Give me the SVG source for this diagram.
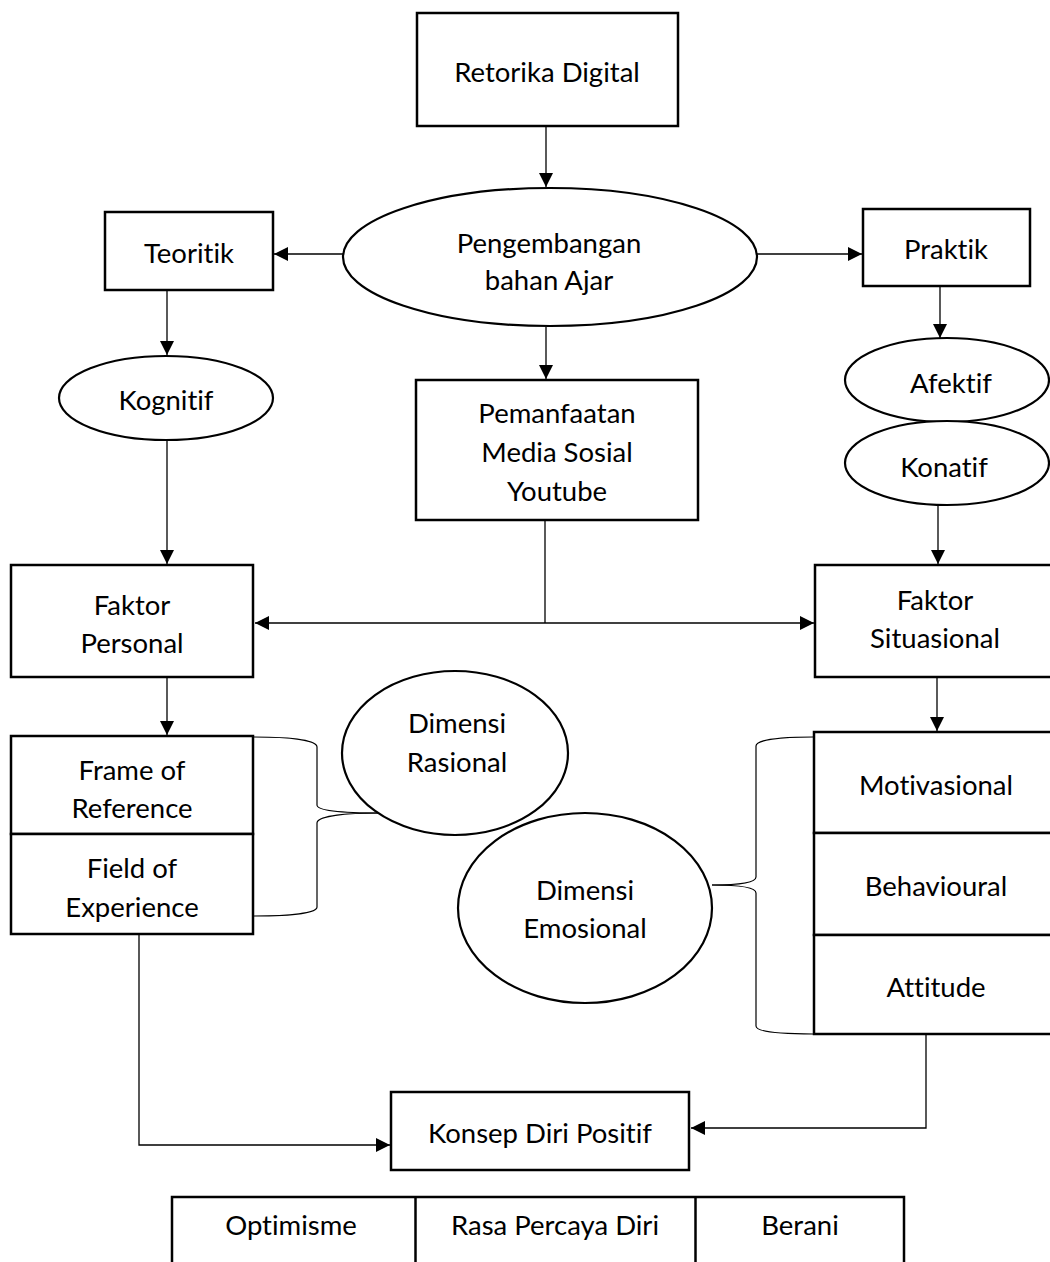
<svg xmlns="http://www.w3.org/2000/svg" width="1050" height="1262" viewBox="0 0 1050 1262">
<style>
.box{fill:#fff;stroke:#000;stroke-width:2.5}
.ell{fill:#fff;stroke:#000;stroke-width:2.2}
.ln{fill:none;stroke:#000;stroke-width:1.3}
.br{fill:none;stroke:#000;stroke-width:1.2}
text{font-family:Lato,"Open Sans","Liberation Sans",sans-serif;font-size:27.5px;fill:#000;text-anchor:middle;font-variant-ligatures:none}
</style>
<defs>
<marker id="ah" viewBox="0 0 10 10" refX="10" refY="5" markerWidth="14" markerHeight="14" markerUnits="userSpaceOnUse" orient="auto">
<path d="M0,0 L10,5 L0,10 Z" fill="#000"/>
</marker>
</defs>
<rect width="1050" height="1262" fill="#fff"/>

<g id="connectors">
<line class="ln" x1="546" y1="126" x2="546" y2="187" marker-end="url(#ah)"/>
<line class="ln" x1="343" y1="254" x2="274" y2="254" marker-end="url(#ah)"/>
<line class="ln" x1="757" y1="254" x2="862" y2="254" marker-end="url(#ah)"/>
<line class="ln" x1="167" y1="291" x2="167" y2="355" marker-end="url(#ah)"/>
<line class="ln" x1="546" y1="327" x2="546" y2="379" marker-end="url(#ah)"/>
<line class="ln" x1="940" y1="287" x2="940" y2="338" marker-end="url(#ah)"/>
<line class="ln" x1="167" y1="440" x2="167" y2="564" marker-end="url(#ah)"/>
<line class="ln" x1="938" y1="505" x2="938" y2="564" marker-end="url(#ah)"/>
<line class="ln" x1="545" y1="520" x2="545" y2="623"/>
<line class="ln" x1="545" y1="623" x2="255" y2="623" marker-end="url(#ah)"/>
<line class="ln" x1="545" y1="623" x2="814" y2="623" marker-end="url(#ah)"/>
<line class="ln" x1="167" y1="678" x2="167" y2="735" marker-end="url(#ah)"/>
<line class="ln" x1="937" y1="678" x2="937" y2="731" marker-end="url(#ah)"/>
<polyline class="ln" points="139,935 139,1145 390,1145" marker-end="url(#ah)"/>
<polyline class="ln" points="926,1035 926,1128 691,1128" marker-end="url(#ah)"/>
<path class="br" d="M254,737 C290,737 317,740 317,747 L317,805 C317,811 345,813 381,813"/>
<path class="br" d="M381,813 C345,813 317,816 317,823 L317,907 C317,913 290,916 254,916"/>
<path class="br" d="M813,737 C780,737 756,740 756,746 L756,877 C756,883 735,885 712,885"/>
<path class="br" d="M712,885 C735,885 756,887 756,893 L756,1026 C756,1032 780,1034 813,1034"/>
</g>

<g id="retorika">
<rect class="box" x="417" y="13" width="261" height="113"/>
<text x="547" y="82">Retorika Digital</text>
</g>
<g id="pengembangan">
<ellipse class="ell" cx="550" cy="257" rx="207" ry="69"/>
<text x="549" y="253">Pengembangan</text>
<text x="549" y="290">bahan Ajar</text>
</g>
<g id="teoritik">
<rect class="box" x="105" y="212" width="168" height="78"/>
<text x="189" y="263">Teoritik</text>
</g>
<g id="praktik">
<rect class="box" x="863" y="209" width="167" height="77"/>
<text x="946" y="259">Praktik</text>
</g>
<g id="kognitif">
<ellipse class="ell" cx="166" cy="398" rx="107" ry="42"/>
<text x="166" y="410">Kognitif</text>
</g>
<g id="pemanfaatan">
<rect class="box" x="416" y="380" width="282" height="140"/>
<text x="557" y="423">Pemanfaatan</text>
<text x="557" y="462">Media Sosial</text>
<text x="557" y="501">Youtube</text>
</g>
<g id="afektif">
<ellipse class="ell" cx="947" cy="380" rx="102" ry="42"/>
<text x="951" y="393">Afektif</text>
</g>
<g id="konatif">
<ellipse class="ell" cx="947" cy="463" rx="102" ry="42"/>
<text x="944" y="477">Konatif</text>
</g>
<g id="faktor-personal">
<rect class="box" x="11" y="565" width="242" height="112"/>
<text x="132" y="615">Faktor</text>
<text x="132" y="653">Personal</text>
</g>
<g id="faktor-situasional">
<rect class="box" x="815" y="565" width="250" height="112"/>
<text x="935" y="610">Faktor</text>
<text x="935" y="648">Situasional</text>
</g>
<g id="frame-field">
<rect class="box" x="11" y="736" width="242" height="98"/>
<rect class="box" x="11" y="834" width="242" height="100"/>
<text x="132" y="780">Frame of</text>
<text x="132" y="818">Reference</text>
<text x="132" y="878">Field of</text>
<text x="132" y="917">Experience</text>
</g>
<g id="dimensi-rasional">
<ellipse class="ell" cx="455" cy="753" rx="113" ry="82"/>
<text x="457" y="733">Dimensi</text>
<text x="457" y="772">Rasional</text>
</g>
<g id="dimensi-emosional">
<ellipse class="ell" cx="585" cy="908" rx="127" ry="95"/>
<text x="585" y="900">Dimensi</text>
<text x="585" y="938">Emosional</text>
</g>
<g id="situasional-stack">
<rect class="box" x="814" y="732" width="250" height="101"/>
<rect class="box" x="814" y="833" width="250" height="102"/>
<rect class="box" x="814" y="935" width="250" height="99"/>
<text x="936" y="795">Motivasional</text>
<text x="936" y="896">Behavioural</text>
<text x="936" y="997">Attitude</text>
</g>
<g id="konsep">
<rect class="box" x="391" y="1092" width="298" height="78"/>
<text x="540" y="1143">Konsep Diri Positif</text>
</g>
<g id="table">
<rect class="box" x="172" y="1197" width="732" height="80"/>
<line class="box" x1="415.5" y1="1197" x2="415.5" y2="1270"/>
<line class="box" x1="695.5" y1="1197" x2="695.5" y2="1270"/>
<text x="291" y="1235">Optimisme</text>
<text x="555" y="1235">Rasa Percaya Diri</text>
<text x="800" y="1235">Berani</text>
</g>
</svg>
